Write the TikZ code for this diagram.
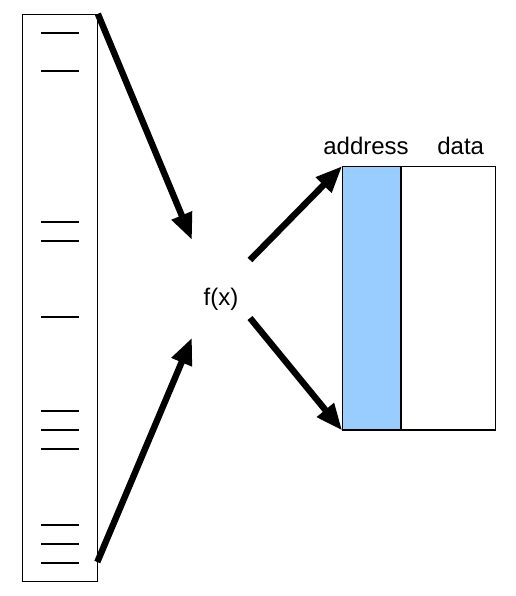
\documentclass[tikz,border=0pt]{standalone}
\usepackage{fontspec}
\setmainfont{Liberation Sans}
\usetikzlibrary{arrows.meta}
\definecolor{addrblue}{RGB}{153,204,255}
\begin{document}
\begin{tikzpicture}[x=0.75pt,y=-0.75pt,
        bigarrow/.style={line width=4.8pt,-{Triangle[length=20pt,width=15.5pt]}},
        lbl/.style={font=\fontsize{18}{21}\selectfont},
        box/.style={draw,line width=0.8pt,inner sep=0pt}]
    \useasboundingbox (0,0) rectangle (516,596);
    %% Table of keys
    \node[box,minimum width=56.25pt,minimum height=425pt] (table) at (59.8,297.7) {};
    \foreach \y in {33,71,222,241,317,411,430,449,525,544,563}
        \draw[line width=0.8pt] (41,\y) -- (79,\y);
    %% Hash function
    \node[lbl,anchor=base] (hash) at (221,305.5) {f(x)};
    \coordinate (in1) at (192,240);
    \coordinate (in2) at (192,337.7);
    \coordinate (src2) at (97.3,562);
    \coordinate (out1) at (250,260);
    \coordinate (out2) at (250,318);
    %% Hash table
    \node[box,fill=addrblue,minimum width=43pt,minimum height=197.5pt] (addr) at (371.4,298.3) {};
    \node[box,minimum width=70.7pt,minimum height=197.5pt,anchor=west] (data) at (addr.east) {};
    \node[lbl,anchor=base] (addrlbl) at (366,154.5) {address};
    \node[lbl,anchor=base] (datalbl) at (460.7,154.5) {data};
    %% Arrows
    \draw[bigarrow] (table.north east) -- (in1);
    \draw[bigarrow] (src2) -- (in2);
    \draw[bigarrow] (out1) -- (addr.north west);
    \draw[bigarrow] (out2) -- (addr.south west);
\end{tikzpicture}
\end{document}
